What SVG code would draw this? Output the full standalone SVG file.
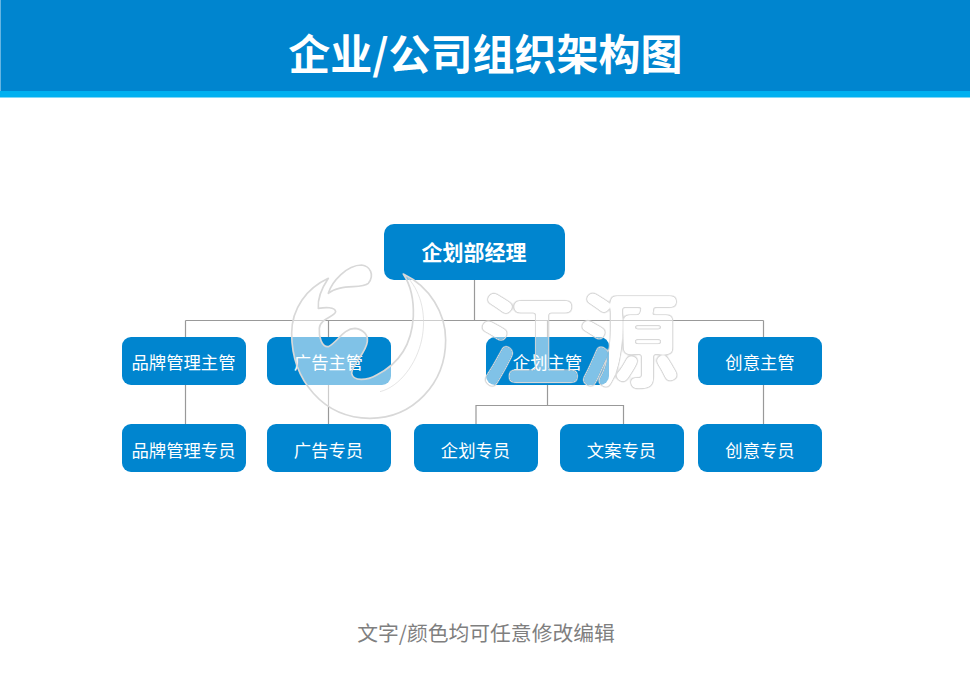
<svg xmlns="http://www.w3.org/2000/svg" width="970" height="685" viewBox="0 0 970 685">
<style>
text{font-family:"Noto Sans CJK SC","Noto Sans",sans-serif;text-anchor:middle}
.n{fill:#0085cf}
.t{fill:#fff;font-size:17.33px}
.c{fill:none;stroke:#999;stroke-width:1.2}
</style>
<defs>
<filter id="wmf" x="-10%" y="-10%" width="120%" height="120%" color-interpolation-filters="sRGB">
<feGaussianBlur in="SourceAlpha" stdDeviation="2.2" result="b"/>
<feComponentTransfer in="b" result="outer"><feFuncA type="linear" slope="12" intercept="-0.5"/></feComponentTransfer>
<feComponentTransfer in="b" result="inner"><feFuncA type="linear" slope="12" intercept="-1.7"/></feComponentTransfer>
<feFlood flood-color="#d8d8d8"/><feComposite in2="outer" operator="in" result="g"/>
<feComposite in="g" in2="inner" operator="out" result="ring"/>
<feFlood flood-color="#fff" flood-opacity="0.5"/><feComposite in2="inner" operator="in" result="w"/>
<feMerge><feMergeNode in="w"/><feMergeNode in="ring"/></feMerge>
</filter>
</defs>
<rect width="970" height="685" fill="#fff"/>
<g id="header">
<rect width="970" height="91" fill="#0085cf"/>
<rect width="1" height="91" fill="#66b5e2"/>
<rect y="91" width="970" height="6.500" fill="#00b0f0"/>
<text x="485.500" y="70" fill="#fff" font-size="42" font-weight="700">企业/公司组织架构图</text>
</g>
<g id="connectors">
<path class="c" d="M474.500 280V320.500M185.500 320.500H763.500M185.500 320.500V337M328.500 320.500V337M547.500 320.500V337M763.500 320.500V337"/>
<path class="c" d="M185.500 385V424M328.500 385V424M763.500 385V424M547.500 385V405.500M476 424V405.500H623.500V424"/>
</g>
<g id="n-manager"><rect class="n" x="384" y="224" width="181" height="56" rx="10"/><text class="t" x="474" y="260" style="font-size:21px;font-weight:700">企划部经理</text></g>
<g id="n-brand-lead"><rect class="n" x="122" y="337" width="124" height="48" rx="9"/><text class="t" x="183.500" y="369">品牌管理主管</text></g>
<g id="n-ad-lead"><rect class="n" x="267" y="337" width="124" height="48" rx="9"/><text class="t" x="328.500" y="369">广告主管</text></g>
<g id="n-plan-lead"><rect class="n" x="486" y="337" width="123" height="48" rx="9"/><text class="t" x="547.500" y="369">企划主管</text></g>
<g id="n-idea-lead"><rect class="n" x="698" y="337" width="124" height="48" rx="9"/><text class="t" x="760" y="369">创意主管</text></g>
<g id="n-brand-staff"><rect class="n" x="122" y="424" width="124" height="48" rx="9"/><text class="t" x="183.500" y="457">品牌管理专员</text></g>
<g id="n-ad-staff"><rect class="n" x="267" y="424" width="124" height="48" rx="9"/><text class="t" x="328.500" y="457">广告专员</text></g>
<g id="n-plan-staff"><rect class="n" x="414" y="424" width="124" height="48" rx="9"/><text class="t" x="475.500" y="457">企划专员</text></g>
<g id="n-copy-staff"><rect class="n" x="560" y="424" width="124" height="48" rx="9"/><text class="t" x="621.500" y="457">文案专员</text></g>
<g id="n-idea-staff"><rect class="n" x="698" y="424" width="124" height="48" rx="9"/><text class="t" x="760" y="457">创意专员</text></g>
<g id="watermark">
<g transform="translate(280 250) scale(.3333)" fill="#fff" fill-opacity=".5" stroke="#d8d8d8" stroke-width="5" stroke-linejoin="round">
<path d="M370 72C450 110 497 190 497 270C497 400 400 505 270 505C130 505 35 390 35 250C35 175 80 115 145 85C125 115 112 145 115 175C135 172 165 170 167 185C165 200 120 205 118 235C116 260 125 292 145 290C170 280 190 235 225 235C250 238 265 255 262 275C258 310 215 345 215 370C220 395 260 392 290 375C350 345 395 290 400 200C402 150 395 110 370 72Z"/>
<path d="M145 130C155 95 200 45 245 45C270 48 285 75 265 100C245 118 180 100 145 130Z"/>
<path fill="none" stroke-width="2" d="M385 85C425 130 440 200 425 270C410 340 360 410 300 425"/>
</g>
<text x="579" y="378" font-size="100" font-weight="400" fill="#000" filter="url(#wmf)">江源</text>
</g>
<g id="footer"><text x="486" y="641" fill="#7f7f7f" font-size="20.800">文字/颜色均可任意修改编辑</text></g>
</svg>
